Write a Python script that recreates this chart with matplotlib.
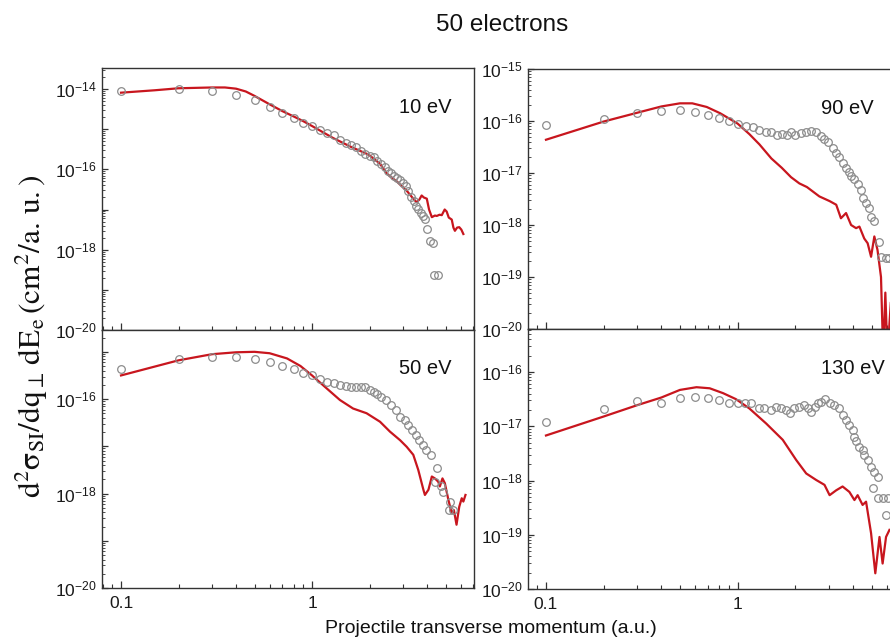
import matplotlib
matplotlib.use('Agg')
import matplotlib.pyplot as plt
import numpy as np
from matplotlib.ticker import FixedLocator, FuncFormatter, NullFormatter

plt.rcParams['font.family'] = 'Liberation Sans'
plt.rcParams['mathtext.fontset'] = 'custom'
plt.rcParams['mathtext.rm'] = 'Liberation Sans'
plt.rcParams['mathtext.it'] = 'Liberation Sans:italic'
plt.rcParams['mathtext.bf'] = 'Liberation Sans:bold'

# datos (y guardado como log10 de la seccion eficaz)
# ---- 10 eV ----
x_exp_10 = [0.1, 0.2, 0.3, 0.4, 0.5, 0.6, 0.7, 0.8, 0.9, 1.0, 1.1, 1.2, 1.3, 1.4, 1.5,
            1.6, 1.7, 1.8, 1.9, 2.0, 2.1, 2.2, 2.3, 2.4, 2.5, 2.6, 2.7, 2.8, 2.9, 3.0,
            3.1, 3.2, 3.3, 3.4, 3.5, 3.6, 3.7, 3.8, 3.9, 4.0, 4.15, 4.28, 4.35, 4.55]
logy_exp_10 = [-14.04, -14.0, -14.04, -14.16, -14.28, -14.44, -14.59, -14.72, -14.84, -14.93,
               -15.01, -15.10, -15.15, -15.27, -15.34, -15.40, -15.45, -15.55, -15.62, -15.67,
               -15.70, -15.80, -15.87, -15.94, -16.03, -16.08, -16.17, -16.22, -16.27, -16.35,
               -16.42, -16.55, -16.70, -16.80, -16.90, -16.98, -17.08, -17.15, -17.23, -17.48,
               -17.78, -17.84, -18.63, -18.63]
x_teo_10 = [0.1, 0.15, 0.2, 0.3, 0.35, 0.4, 0.45, 0.5, 0.6, 0.7, 0.8, 0.9, 1.0, 1.29, 1.6,
            1.93, 2.0, 2.27, 2.46, 2.6, 2.78, 3.0, 3.13, 3.39, 3.53, 3.65, 3.75, 3.85, 3.99,
            4.1, 4.24, 4.4, 4.5, 4.65, 4.78, 4.95, 5.07, 5.2, 5.39, 5.5, 5.6, 5.75, 5.9,
            6.05, 6.2]
logy_teo_10 = [-14.09, -14.03, -13.98, -13.96, -13.96, -13.99, -14.06, -14.17, -14.38, -14.55,
               -14.68, -14.80, -14.92, -15.22, -15.44, -15.61, -15.65, -15.86, -16.10, -16.20,
               -16.30, -16.45, -16.53, -16.73, -16.82, -16.75, -16.65, -16.70, -16.73, -17.0,
               -17.19, -17.15, -17.16, -17.13, -17.14, -17.0, -17.05, -17.2, -17.25, -17.45,
               -17.53, -17.45, -17.44, -17.5, -17.61]

# ---- 50 eV ----
x_exp_50 = [0.1, 0.2, 0.3, 0.4, 0.5, 0.6, 0.7, 0.8, 0.9, 1.0, 1.1, 1.2, 1.3, 1.4, 1.5,
            1.6, 1.7, 1.8, 1.9, 2.0, 2.1, 2.2, 2.3, 2.45, 2.6, 2.75, 2.9, 3.05, 3.2, 3.35,
            3.5, 3.65, 3.8, 3.95, 4.2, 4.4, 4.5, 4.75, 4.85, 5.2, 5.3, 5.5]
logy_exp_50 = [-15.36, -15.16, -15.11, -15.12, -15.15, -15.22, -15.30, -15.37, -15.44, -15.50,
               -15.57, -15.64, -15.67, -15.70, -15.73, -15.74, -15.74, -15.74, -15.75, -15.80,
               -15.85, -15.89, -15.95, -16.02, -16.13, -16.23, -16.37, -16.44, -16.55, -16.66,
               -16.76, -16.87, -16.97, -17.08, -17.18, -17.75, -17.47, -17.85, -17.96, -18.35,
               -18.17, -18.35]
x_teo_50 = [0.1, 0.2, 0.3, 0.4, 0.5, 0.6, 0.74, 0.87, 1.0, 1.19, 1.4, 1.64, 1.93, 2.27,
            2.56, 2.89, 3.13, 3.39, 3.6, 3.83, 3.9, 4.07, 4.24, 4.4, 4.58, 4.67, 4.82, 4.96,
            5.18, 5.39, 5.53, 5.71, 5.9, 6.08, 6.2, 6.36]
logy_teo_50 = [-15.50, -15.18, -15.05, -15.01, -15.00, -15.03, -15.14, -15.30, -15.50, -15.77,
               -16.02, -16.20, -16.30, -16.48, -16.69, -16.87, -17.01, -17.18, -17.50, -17.92,
               -18.03, -17.92, -17.64, -17.68, -17.75, -17.85, -17.68, -17.78, -18.14, -18.42,
               -18.35, -18.66, -18.28, -18.10, -18.17, -18.03]

# ---- 90 eV ----
x_exp_90 = [0.1, 0.2, 0.3, 0.4, 0.5, 0.6, 0.7, 0.8, 0.9, 1.0, 1.1, 1.2, 1.3, 1.4, 1.5,
            1.6, 1.7, 1.8, 1.9, 2.0, 2.15, 2.28, 2.42, 2.57, 2.73, 2.84, 2.95, 3.14, 3.27,
            3.39, 3.53, 3.68, 3.8, 3.91, 4.07, 4.23, 4.41, 4.49, 4.68, 4.87, 4.97, 5.17,
            5.5, 5.61, 5.95, 6.2]
logy_exp_90 = [-16.08, -15.96, -15.84, -15.80, -15.78, -15.83, -15.88, -15.95, -16.0, -16.06,
               -16.09, -16.12, -16.18, -16.21, -16.22, -16.27, -16.25, -16.27, -16.22, -16.27,
               -16.23, -16.21, -16.19, -16.22, -16.28, -16.35, -16.41, -16.51, -16.61, -16.70,
               -16.80, -16.90, -16.98, -17.06, -17.12, -17.22, -17.32, -17.48, -17.58, -17.67,
               -17.84, -17.93, -18.32, -18.61, -18.64, -18.64]
x_teo_90 = [0.1, 0.2, 0.3, 0.4, 0.5, 0.58, 0.69, 0.81, 0.95, 1.0, 1.15, 1.3, 1.5, 1.7,
            1.9, 2.1, 2.3, 2.67, 3.02, 3.27, 3.46, 3.68, 3.91, 4.15, 4.32, 4.58, 4.77, 4.97,
            5.17, 5.37, 5.6, 5.75, 5.9, 6.05, 6.3]
logy_teo_90 = [-16.36, -16.01, -15.84, -15.72, -15.66, -15.66, -15.73, -15.85, -16.0, -16.05,
               -16.25, -16.45, -16.72, -16.90, -17.08, -17.20, -17.27, -17.45, -17.54, -17.61,
               -17.87, -17.77, -18.0, -18.06, -18.03, -18.26, -18.35, -18.61, -18.22, -18.48,
               -19.0, -20.5, -19.3, -20.5, -19.5]

# ---- 130 eV ----
x_exp_130 = [0.1, 0.2, 0.3, 0.4, 0.5, 0.6, 0.7, 0.8, 0.9, 1.0, 1.09, 1.18, 1.29, 1.38,
             1.5, 1.59, 1.69, 1.78, 1.88, 1.98, 2.1, 2.23, 2.32, 2.42, 2.52, 2.62, 2.73,
             2.87, 3.02, 3.2, 3.39, 3.53, 3.68, 3.83, 3.99, 4.07, 4.15, 4.32, 4.49, 4.58,
             4.77, 4.97, 5.17, 5.37, 5.08, 5.37, 5.71, 5.95, 6.1]
logy_exp_130 = [-16.93, -16.68, -16.53, -16.57, -16.47, -16.46, -16.47, -16.51, -16.57, -16.57,
                -16.57, -16.57, -16.67, -16.67, -16.70, -16.64, -16.67, -16.70, -16.75, -16.67,
                -16.64, -16.61, -16.67, -16.73, -16.64, -16.58, -16.55, -16.50, -16.57, -16.61,
                -16.67, -16.79, -16.88, -16.98, -17.07, -17.19, -17.28, -17.38, -17.44, -17.53,
                -17.62, -17.75, -17.84, -17.93, -18.14, -18.33, -18.33, -18.64, -18.33]
x_teo_130 = [0.1, 0.2, 0.3, 0.4, 0.5, 0.61, 0.715, 0.84, 0.98, 1.15, 1.41, 1.72, 2.02,
             2.28, 2.57, 2.84, 3.02, 3.27, 3.53, 3.83, 4.07, 4.23, 4.49, 4.68, 4.97, 5.23,
             5.5, 5.71, 5.95, 6.2]
logy_teo_130 = [-17.17, -16.82, -16.61, -16.47, -16.33, -16.28, -16.30, -16.39, -16.50, -16.67,
                -16.95, -17.25, -17.62, -17.87, -17.99, -18.08, -18.27, -18.18, -18.11, -18.21,
                -18.36, -18.27, -18.45, -18.39, -18.97, -19.71, -19.04, -19.53, -19.04, -18.91]

rojo = '#c8161e'
gris = '#8c8c8c'
borde = '#333333'

fig = plt.figure(figsize=(8.9, 6.39), dpi=100)

# los paneles de la derecha llegan al borde de la figura (recortados como en la original)
ax_10 = fig.add_axes([0.1146, 0.4836, 0.418, 0.4100])
ax_50 = fig.add_axes([0.1146, 0.0798, 0.418, 0.4038])
ax_90 = fig.add_axes([0.5933, 0.4851, 0.4067, 0.4069])
ax_130 = fig.add_axes([0.5933, 0.0782, 0.4067, 0.4069])

paneles = [
    (ax_10, x_exp_10, logy_exp_10, x_teo_10, logy_teo_10, '10 eV', (1e-20, 3.35e-14), True, False),
    (ax_50, x_exp_50, logy_exp_50, x_teo_50, logy_teo_50, '50 eV', (1e-20, 2.9e-15), True, True),
    (ax_90, x_exp_90, logy_exp_90, x_teo_90, logy_teo_90, '90 eV', (1e-20, 1e-15), False, False),
    (ax_130, x_exp_130, logy_exp_130, x_teo_130, logy_teo_130, '130 eV', (1e-20, 6.2e-16), False, True),
]


def etiqueta_y(pares):
    def f(v, pos):
        e = int(round(np.log10(v)))
        if pares and e % 2 != 0:
            return ''
        return r'$\mathregular{10^{%d}}$' % e
    return f


def ticks_log(lo, hi):
    # solo los ticks que caen dentro del rango visible
    dec = np.arange(np.floor(np.log10(lo)), np.ceil(np.log10(hi)) + 1)
    mayores = [10.0 ** d for d in dec if lo * 0.999 <= 10.0 ** d <= hi * 1.001]
    menores = [s * 10.0 ** d for d in dec for s in range(2, 10) if lo <= s * 10.0 ** d <= hi]
    return mayores, menores


for ax, xe, ye, xt, yt, texto, ylim, pares, abajo in paneles:
    ax.plot(xt, 10 ** np.array(yt), color=rojo, lw=1.6, zorder=2)
    ax.plot(xe, 10 ** np.array(ye), 'o', ms=5.5, mfc='none', mec=gris, mew=0.9, zorder=3)
    ax.set_xscale('log')
    ax.set_yscale('log')
    if pares:
        xlim = (0.0795, 7.05)
    else:
        xlim = (0.0806, 6.24)
        ax.spines['right'].set_visible(False)
    ax.set_xlim(*xlim)
    ax.set_ylim(*ylim)

    ymay, ymen = ticks_log(*ylim)
    xmay, xmen = ticks_log(*xlim)
    ax.yaxis.set_major_locator(FixedLocator(ymay))
    ax.yaxis.set_minor_locator(FixedLocator(ymen))
    ax.yaxis.set_major_formatter(FuncFormatter(etiqueta_y(pares)))
    ax.yaxis.set_minor_formatter(NullFormatter())
    ax.xaxis.set_major_locator(FixedLocator(xmay))
    ax.xaxis.set_minor_locator(FixedLocator(xmen))
    ax.xaxis.set_major_formatter(FuncFormatter(lambda v, pos: '%g' % v))
    ax.xaxis.set_minor_formatter(NullFormatter())

    ax.tick_params(which='both', direction='in', colors=borde, labelcolor='#1a1a1a',
                   top=False, right=False)
    ax.tick_params(axis='y', which='major', length=4, width=0.9, labelsize=12.5, pad=4)
    ax.tick_params(axis='y', which='minor', length=2, width=0.6)
    ax.tick_params(axis='x', which='major', length=5, width=0.9, labelsize=12.5, pad=6)
    ax.tick_params(axis='x', which='minor', length=3, width=0.8)
    if not abajo:
        ax.tick_params(axis='x', labelbottom=False)

    for s in ax.spines.values():
        s.set_color(borde)
        s.set_linewidth(1.0)

    if pares:
        ax.text(0.868, 0.85, texto, transform=ax.transAxes, ha='center', va='center',
                fontsize=14.5, color='#111111')
    else:
        ax.text(0.81, 0.85, texto, transform=ax.transAxes, ha='left', va='center',
                fontsize=14.5, color='#111111')

fig.text(0.564, 0.961, '50 electrons', ha='center', va='center', fontsize=17.5, color='#111111')
fig.text(0.551, 0.017, 'Projectile transverse momentum (a.u.)', ha='center', va='center',
         fontsize=14, color='#111111')
fig.text(0.036, 0.474, r'$\mathrm{d^2\sigma_{SI}/dq_{\perp}\,dE_e\,(cm^2/a.\,u.)}$',
         rotation=90, ha='center', va='center', fontsize=22.5, color='#111111',
         math_fontfamily='stix')

fig.savefig('out.png', dpi=100)
